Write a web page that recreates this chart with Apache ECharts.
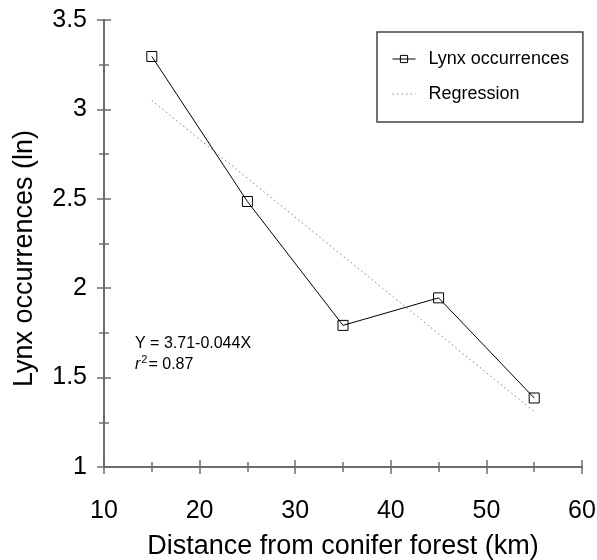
<!DOCTYPE html>
<html>
<head>
<meta charset="utf-8">
<script src="https://cdn.jsdelivr.net/npm/echarts@6/dist/echarts.min.js"></script>
<style>
html,body{margin:0;padding:0;background:#fff;}
#chart{width:597px;height:560px;}
</style>
</head>
<body>
<div id="chart"></div>
<script>
// Data
const distances = [15, 25, 35, 45, 55];
const lynxOccurrences = [3.296, 2.485, 1.792, 1.946, 1.386];
const regressionX = [15, 55];
const regressionY = [3.05, 1.31];
const xTicks = [10, 20, 30, 40, 50, 60];
const yTicks = [1, 1.5, 2, 2.5, 3, 3.5];
const equationText = 'Y = 3.71-0.044X';
const r2Text = '0.87';

const FONT = 'Liberation Sans, Arial, Helvetica, sans-serif';
const axisGray = '#6e6e6e';

const chart = echarts.init(document.getElementById('chart'));

const gridBox = {left: 104, right: 15, top: 20, bottom: 93, containLabel: false, outerBoundsMode: 'none'};
const tickStyle = {color: axisGray, width: 1.5};

function xAxisDef(gridIndex, inside) {
  return {
    type: 'value', gridIndex: gridIndex,
    min: xTicks[0], max: xTicks[xTicks.length - 1], interval: 10,
    position: 'bottom', splitLine: {show: false},
    axisLine: {show: true, onZero: false, lineStyle: {color: axisGray, width: 2}},
    axisTick: {show: true, inside: inside, length: 7, lineStyle: tickStyle},
    minorTick: {show: true, splitNumber: 2, length: 5, lineStyle: tickStyle},
    axisLabel: inside ? {show: false} :
      {fontFamily: FONT, fontSize: 25, color: '#000', margin: 32, formatter: v => String(v)}
  };
}
function yAxisDef(gridIndex, inside) {
  return {
    type: 'value', gridIndex: gridIndex,
    min: yTicks[0], max: yTicks[yTicks.length - 1], interval: 0.5,
    position: 'left', splitLine: {show: false},
    axisLine: {show: true, onZero: false, lineStyle: {color: axisGray, width: 2}},
    axisTick: {show: true, inside: inside, length: 7, lineStyle: tickStyle},
    minorTick: {show: true, splitNumber: 2, length: 5, lineStyle: tickStyle},
    axisLabel: inside ? {show: false} :
      {fontFamily: FONT, fontSize: 25, color: '#000', margin: 17, formatter: v => String(v)}
  };
}

const xMain = Object.assign(xAxisDef(0, false), {
  name: 'Distance from conifer forest (km)',
  nameLocation: 'middle', nameGap: 66,
  nameTextStyle: {fontFamily: FONT, fontSize: 27, color: '#000'}
});
const yMain = Object.assign(yAxisDef(0, false), {
  name: 'Lynx occurrences (ln)',
  nameLocation: 'middle', nameGap: 66,
  nameTextStyle: {fontFamily: FONT, fontSize: 27, color: '#000', padding: [0, 30, 0, 0]}
});

chart.setOption({
  animation: false,
  backgroundColor: '#fff',
  grid: [Object.assign({}, gridBox), Object.assign({}, gridBox)],
  xAxis: [xMain, xAxisDef(1, true)],
  yAxis: [yMain, yAxisDef(1, true)],
  legend: {
    orient: 'vertical',
    left: 377, top: 32,
    padding: [18, 14, 19, 15],
    itemGap: 17,
    itemWidth: 23, itemHeight: 9,
    borderColor: '#444', borderWidth: 1.5,
    backgroundColor: '#fff',
    textStyle: {fontFamily: FONT, fontSize: 18, color: '#000', padding: [0, 0, 0, 8]},
    data: [
      {name: 'Lynx occurrences',
       itemStyle: {color: 'transparent', borderColor: '#000', borderWidth: 1},
       lineStyle: {color: '#000', width: 1}},
      {name: 'Regression',
       itemStyle: {color: 'transparent', borderColor: 'transparent', borderWidth: 0, opacity: 0},
       lineStyle: {color: '#808080', width: 1, type: [1.5, 3]}}
    ]
  },
  series: [
    {
      name: 'Regression',
      type: 'line',
      xAxisIndex: 0, yAxisIndex: 0,
      data: regressionX.map((x, i) => [x, regressionY[i]]),
      symbol: 'none',
      lineStyle: {color: '#808080', width: 1, type: [1.5, 3]},
      itemStyle: {color: '#808080'},
      z: 2
    },
    {
      name: 'Lynx occurrences',
      type: 'line',
      xAxisIndex: 0, yAxisIndex: 0,
      data: distances.map((x, i) => [x, lynxOccurrences[i]]),
      symbol: 'rect',
      symbolSize: 10,
      showAllSymbol: true,
      lineStyle: {color: '#000', width: 1},
      itemStyle: {color: 'transparent', borderColor: '#000', borderWidth: 1},
      z: 3
    }
  ],
  graphic: [
    {
      type: 'text',
      left: 135, top: 333,
      style: {
        text: equationText + '\n{it|r}{sup|2}= ' + r2Text,
        font: '16px ' + FONT,
        fill: '#000',
        lineHeight: 21,
        rich: {
          it: {fontStyle: 'italic', fontSize: 16, fontFamily: FONT, fill: '#000'},
          sup: {fontSize: 11, fontFamily: FONT, verticalAlign: 'top', fill: '#000', padding: [0, 1, 8, 1]}
        }
      }
    }
  ]
});
</script>
</body>
</html>
